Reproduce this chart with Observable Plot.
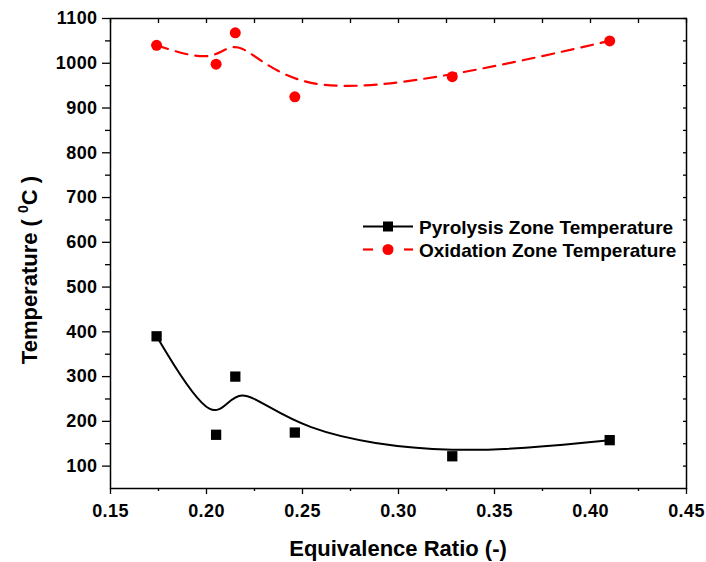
<!DOCTYPE html>
<html><head><meta charset="utf-8">
<script src="https://cdn.jsdelivr.net/npm/d3@7"></script>
<script src="https://cdn.jsdelivr.net/npm/@observablehq/plot@0.6"></script>
<style>
body{margin:0;background:#fff}
#wrap{position:relative;width:706px;height:562px}
</style>
</head><body><div id="wrap"></div>
<script>
// Data
const ratio = [0.174, 0.205, 0.215, 0.246, 0.328, 0.410];
const pyrolysis = [390, 170, 300, 175, 122, 158];
const oxidation = [1040, 998, 1068, 925, 970, 1050];
const seriesNames = ["Pyrolysis Zone Temperature", "Oxidation Zone Temperature"];
const xTicks = [0.15, 0.20, 0.25, 0.30, 0.35, 0.40, 0.45];
const xMinor = [0.175, 0.225, 0.275, 0.325, 0.375, 0.425];
const yTicks = [100, 200, 300, 400, 500, 600, 700, 800, 900, 1000, 1100];
const yMinor = [150, 250, 350, 450, 550, 650, 750, 850, 950, 1050];
const xLabel = "Equivalence Ratio (-)";

const pyro = ratio.map((x, i) => ({x, y: pyrolysis[i]}));
const oxi = ratio.map((x, i) => ({x, y: oxidation[i]}));
const empty = () => "";

const font = "'Liberation Sans', Arial, sans-serif";

const svg = Plot.plot({
  width: 706, height: 562,
  marginLeft: 110, marginRight: 20, marginTop: 18, marginBottom: 74,
  style: {fontFamily: font, fontWeight: "bold", fontSize: "18px", color: "black", background: "white"},
  x: {domain: [0.15, 0.45]},
  y: {domain: [50, 1100]},
  marks: [
    Plot.axisX({ticks: xTicks, tickSize: 6, tickPadding: 10, tickFormat: d3.format(".2f"), label: null, fontSize: 18, fontWeight: "bold", strokeWidth: 1.3}),
    Plot.axisX({ticks: xMinor, tickSize: 3, tickFormat: empty, label: null, strokeWidth: 1.3}),
    Plot.axisX({anchor: "top", ticks: xTicks.concat(xMinor), tickSize: -4, tickFormat: empty, label: null, strokeWidth: 1.3}),
    Plot.axisY({ticks: yTicks, tickSize: 8, tickPadding: 5, tickFormat: d3.format("d"), label: null, fontSize: 18, fontWeight: "bold", strokeWidth: 1.3}),
    Plot.axisY({ticks: yMinor, tickSize: 5, tickFormat: empty, label: null, strokeWidth: 1.3}),
    Plot.axisY({anchor: "right", ticks: yTicks.concat(yMinor), tickSize: -4, tickFormat: empty, label: null, strokeWidth: 1.3}),
    Plot.frame({stroke: "black", strokeWidth: 1.5}),
    Plot.line(oxi, {x: "x", y: "y", curve: "basis", stroke: "#ff0000", strokeWidth: 2.2, strokeDasharray: "12,8"}),
    Plot.line(pyro, {x: "x", y: "y", curve: "basis", stroke: "black", strokeWidth: 2}),
    Plot.dot(oxi, {x: "x", y: "y", r: 5.5, fill: "#ff0000", stroke: null}),
    Plot.dot(pyro, {x: "x", y: "y", symbol: "square", r: 5.8, fill: "black", stroke: null})
  ]
});

const s = d3.select(svg);
s.selectAll("g[aria-label$='tick label']")
  .style("font-size", "18px").style("font-weight", "bold").style("font-family", font)
  .selectAll("text").style("font-size", "18px").style("letter-spacing", "0.4px");

// X axis title
s.append("text")
  .attr("x", 398).attr("y", 556)
  .attr("text-anchor", "middle")
  .style("font-family", font).style("font-weight", "bold").style("font-size", "22px")
  .text(xLabel);

// Y axis title with superscript
const yt = s.append("text")
  .attr("transform", "translate(36.5,270) rotate(-90)")
  .attr("text-anchor", "middle")
  .style("font-family", font).style("font-weight", "bold").style("font-size", "22px");
yt.append("tspan").text("Temperature ( ");
yt.append("tspan").attr("dy", -9).style("font-size", "14px").text("0");
yt.append("tspan").attr("dy", 9).text("C )");

// Legend
const lg = s.append("g").attr("text-anchor", "start").style("font-family", font).style("font-weight", "bold").style("font-size", "19px");
const rows = [
  {name: seriesNames[0], color: "black", y: 226.5, dash: null},
  {name: seriesNames[1], color: "#ff0000", y: 249.5, dash: "10,8"}
];
rows.forEach(r => {
  if (r.dash) {
    lg.append("line").attr("x1", 363).attr("x2", 373).attr("y1", r.y).attr("y2", r.y).attr("stroke", r.color).attr("stroke-width", 2.2);
    lg.append("line").attr("x1", 404).attr("x2", 413).attr("y1", r.y).attr("y2", r.y).attr("stroke", r.color).attr("stroke-width", 2.2);
    lg.append("circle").attr("cx", 388).attr("cy", r.y).attr("r", 5.5).attr("fill", r.color);
  } else {
    lg.append("line").attr("x1", 363).attr("x2", 413).attr("y1", r.y).attr("y2", r.y).attr("stroke", r.color).attr("stroke-width", 2);
    lg.append("rect").attr("x", 383).attr("y", r.y - 5).attr("width", 10).attr("height", 10).attr("fill", r.color);
  }
  lg.append("text").attr("x", 419).attr("y", r.y + 7).attr("text-anchor", "start").text(r.name);
});

document.getElementById("wrap").appendChild(svg);
</script>
</body></html>
